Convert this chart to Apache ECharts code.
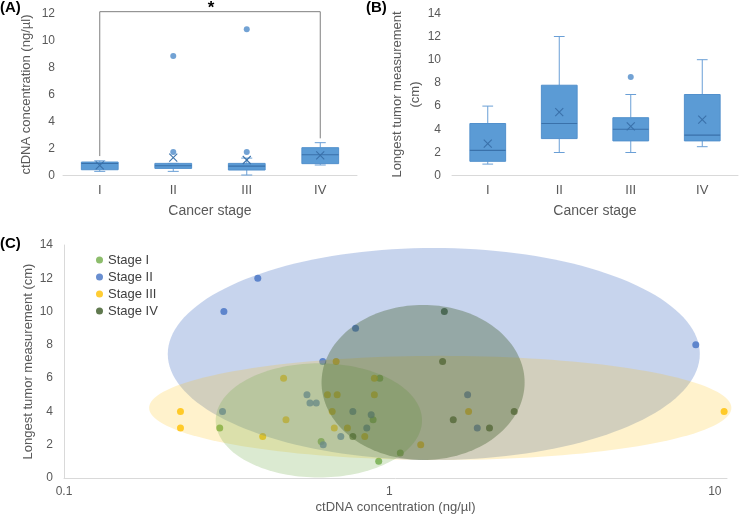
<!DOCTYPE html>
<html><head><meta charset="utf-8">
<script src="https://cdn.jsdelivr.net/npm/echarts@6/dist/echarts.min.js"></script>
<style>html,body{margin:0;padding:0;background:#fff}#c{width:740px;height:515px}</style>
</head><body><div id="c"></div>
<script>
const stages = ['I', 'II', 'III', 'IV'];
// Panel A: ctDNA concentration (ng/µl) per stage: [min, Q1, median, Q3, max]
const ctdnaBoxes = [[0.32, 0.44, 0.9, 1.01, 1.1], [0.32, 0.54, 0.74, 0.91, 0.91], [0.05, 0.42, 0.71, 0.91, 1.3], [0.79, 0.89, 1.55, 2.07, 2.44]];
const ctdnaMeans = [0.77, 1.33, 1.16, 1.5];
const ctdnaOutliers = [[1, 1.75], [1, 8.85], [2, 1.75], [2, 10.82]];
// significance bracket: [fromStage, toStage, fromHeight, toHeight, topHeight]
const sigBracket = [[0, 3, 1.45, 2.76, 12.12]];
// Panel B: longest tumor measurement (cm) per stage
const sizeBoxes = [[1.0, 1.24, 2.18, 4.5, 6.0], [2.0, 3.2, 4.5, 7.8, 12.0], [2.0, 3.0, 4.0, 5.0, 7.0], [2.5, 3.0, 3.5, 7.0, 10.0]];
const sizeMeans = [2.76, 5.49, 4.25, 4.83];
const sizeOutliers = [[2, 8.5]];
// Panel C: [ctDNA, longest tumor measurement]
const stageI = [[0.934, 6], [0.891, 3.5], [0.301, 3], [0.617, 2.2], [1.08, 1.5], [0.927, 1]];
const stageII = [[0.31, 10], [0.394, 12], [0.787, 9], [8.74, 8], [0.624, 7], [0.558, 5], [0.570, 4.5], [0.596, 4.5], [0.307, 4], [0.772, 4], [0.879, 3.8], [0.852, 3], [0.709, 2.5], [0.626, 2], [1.739, 5], [1.862, 3]];
const stageIII = [[0.686, 7], [0.473, 6], [0.899, 6], [0.645, 5], [0.691, 5], [0.899, 5], [0.667, 4], [0.228, 4], [0.228, 3], [0.481, 3.5], [0.408, 2.5], [0.677, 3], [0.743, 3], [0.840, 2.5], [1.248, 2], [10.68, 4], [1.751, 4]];
const stageIV = [[1.475, 10], [1.457, 7], [0.772, 2.5], [2.418, 4], [1.571, 3.5], [2.03, 3]];
// cluster ellipses: [center ctDNA, center size, x radius (decades), y radius]
const ellipses = [[1.369, 7.45, 0.8175, 6.37], [1.433, 4.21, 0.8947, 3.13], [0.607, 3.46, 0.317, 3.43], [1.269, 5.74, 0.312, 4.66]];
const ellipseColors = ['rgba(68,114,196,0.30)', 'rgba(255,192,0,0.20)', 'rgba(112,173,71,0.25)', 'rgba(56,87,35,0.35)'];
const stageNames = ['Stage I', 'Stage II', 'Stage III', 'Stage IV'];
const stageColors = ['#70ad47', '#4472c4', '#ffc000', '#385723'];
const yA = { min: 0, max: 12, interval: 2 };
const yB = { min: 0, max: 14, interval: 2 };
const yC = { min: 0, max: 14, interval: 2 };
const xC = { min: 0.1, max: 10.9 };

const FONT = '"Liberation Sans", Arial, sans-serif';
const GREY = '#595959';

function boxData(boxes, means) {
  return boxes.map((b, i) => [i].concat(b, [means[i]]));
}
function renderBox(params, api) {
  const i = api.value(0);
  const bw = api.size([1, 0])[0] * 0.5;
  const capW = bw * 0.3;
  const x = api.coord([i, 0])[0];
  const y = k => api.coord([i, api.value(k)])[1];
  const yMin = y(1), yQ1 = y(2), yMed = y(3), yQ3 = y(4), yMax = y(5), yMean = y(6);
  const ws = { stroke: '#6a9fd6', lineWidth: 1 };
  const ms = { stroke: '#3a71aa', lineWidth: 1.1 };
  return {
    type: 'group', children: [
      { type: 'line', shape: { x1: x, y1: yMax, x2: x, y2: yQ3 }, style: ws },
      { type: 'line', shape: { x1: x, y1: yQ1, x2: x, y2: yMin }, style: ws },
      { type: 'line', shape: { x1: x - capW / 2, y1: yMax, x2: x + capW / 2, y2: yMax }, style: ws },
      { type: 'line', shape: { x1: x - capW / 2, y1: yMin, x2: x + capW / 2, y2: yMin }, style: ws },
      { type: 'rect', shape: { x: x - bw / 2, y: yQ3, width: bw, height: yQ1 - yQ3 }, style: { fill: '#5b9bd5', stroke: '#5290cc', lineWidth: 1 } },
      { type: 'line', shape: { x1: x - bw / 2, y1: yMed, x2: x + bw / 2, y2: yMed }, style: ms },
      { type: 'line', shape: { x1: x - 4, y1: yMean - 4, x2: x + 4, y2: yMean + 4 }, style: ms },
      { type: 'line', shape: { x1: x - 4, y1: yMean + 4, x2: x + 4, y2: yMean - 4 }, style: ms }
    ]
  };
}
function renderBracket(params, api) {
  const a = api.coord([api.value(0), api.value(2)]);
  const b = api.coord([api.value(1), api.value(3)]);
  const ta = api.coord([api.value(0), api.value(4)]);
  const tb = api.coord([api.value(1), api.value(4)]);
  return {
    type: 'group', children: [
      { type: 'polyline', shape: { points: [a, ta, tb, b] }, style: { stroke: '#7f7f7f', lineWidth: 1, fill: 'none' } },
      { type: 'text', x: (ta[0] + tb[0]) / 2 + 1, y: ta[1] - 11.5, style: { text: '*', font: 'bold 17px ' + FONT, fill: '#000', align: 'center', verticalAlign: 'top' } }
    ]
  };
}
function renderEllipse(params, api) {
  const lc = Math.log10(api.value(0)), cy = api.value(1), rx = api.value(2), ry = api.value(3);
  const pts = [];
  for (let k = 0; k < 160; k++) {
    const t = k / 160 * 2 * Math.PI;
    pts.push(api.coord([Math.pow(10, lc + rx * Math.cos(t)), cy + ry * Math.sin(t)]));
  }
  return { type: 'polygon', shape: { points: pts }, style: { fill: ellipseColors[params.dataIndex] } };
}

const catAxis = (gi) => ({
  type: 'category', gridIndex: gi, data: stages,
  axisLine: { lineStyle: { color: '#d9d9d9' } }, axisTick: { show: false },
  axisLabel: { color: GREY, fontSize: 13, fontFamily: FONT, margin: 8 },
  name: 'Cancer stage', nameLocation: 'middle', nameGap: 28, nameMoveOverlap: false,
  nameTextStyle: { color: GREY, fontSize: 14, fontFamily: FONT }
});
const valAxis = (gi, r, name, gap, margin) => ({
  type: 'value', gridIndex: gi, min: r.min, max: r.max, interval: r.interval,
  axisLine: { show: false }, axisTick: { show: false }, splitLine: { show: false },
  axisLabel: { color: GREY, fontSize: 12, fontFamily: FONT, margin: margin },
  name: name, nameLocation: 'middle', nameGap: gap, nameMoveOverlap: false,
  nameTextStyle: { color: GREY, fontSize: 13, fontFamily: FONT, lineHeight: 18 }
});

const chart = echarts.init(document.getElementById('c'));
chart.setOption({
  animation: false,
  backgroundColor: '#fff',
  graphic: [
    { type: 'text', left: 0, top: 0, style: { text: '(A)', font: 'bold 15px ' + FONT, fill: '#000' } },
    { type: 'text', left: 366, top: 0, style: { text: '(B)', font: 'bold 15px ' + FONT, fill: '#000' } },
    { type: 'text', left: 0, top: 236, style: { text: '(C)', font: 'bold 15px ' + FONT, fill: '#000' } }
  ],
  grid: [
    { left: 63, top: 13.3, width: 294, height: 162.4 },
    { left: 452, top: 13.3, width: 286, height: 162.4 },
    { left: 64, top: 245, width: 663, height: 233 }
  ],
  legend: {
    data: stageNames, orient: 'vertical', left: 91, top: 248, itemGap: 3,
    itemWidth: 7, itemHeight: 7, icon: 'circle',
    textStyle: { color: '#404040', fontSize: 13, fontFamily: FONT, lineHeight: 14 }
  },
  xAxis: [
    catAxis(0), catAxis(1),
    {
      type: 'log', logBase: 10, gridIndex: 2, min: xC.min, max: xC.max, interval: 1,
      axisLine: { lineStyle: { color: '#d9d9d9' } }, axisTick: { show: false }, splitLine: { show: false },
      axisLabel: {
        color: GREY, fontSize: 12, fontFamily: FONT, margin: 8, showMaxLabel: false,
        formatter: v => { const l = Math.log10(v); return Math.abs(l - Math.round(l)) < 1e-6 ? String(+v.toPrecision(3)) : ''; }
      },
      name: 'ctDNA concentration (ng/µl)', nameLocation: 'middle', nameGap: 23, nameMoveOverlap: false,
      nameTextStyle: { color: GREY, fontSize: 13, fontFamily: FONT }
    }
  ],
  yAxis: [
    valAxis(0, yA, 'ctDNA concentration (ng/µl)', 28, 8),
    valAxis(1, yB, 'Longest tumor measurement\n(cm)', 28, 11),
    Object.assign(valAxis(2, yC, 'Longest tumor measurement (cm)', 26.5, 11), { axisLine: { show: true, lineStyle: { color: '#d9d9d9' } } })
  ],
  series: [
    { type: 'custom', xAxisIndex: 0, yAxisIndex: 0, renderItem: renderBox, data: boxData(ctdnaBoxes, ctdnaMeans), silent: true },
    { type: 'scatter', xAxisIndex: 0, yAxisIndex: 0, data: ctdnaOutliers, symbolSize: 6, itemStyle: { color: '#4f8bc9' }, silent: true },
    { type: 'custom', xAxisIndex: 0, yAxisIndex: 0, renderItem: renderBracket, data: sigBracket, silent: true, clip: false },
    { type: 'custom', xAxisIndex: 1, yAxisIndex: 1, renderItem: renderBox, data: boxData(sizeBoxes, sizeMeans), silent: true },
    { type: 'scatter', xAxisIndex: 1, yAxisIndex: 1, data: sizeOutliers, symbolSize: 6, itemStyle: { color: '#4f8bc9' }, silent: true },
    { type: 'scatter', name: stageNames[0], xAxisIndex: 2, yAxisIndex: 2, data: stageI, symbolSize: 7, itemStyle: { color: stageColors[0] }, z: 2 },
    { type: 'scatter', name: stageNames[1], xAxisIndex: 2, yAxisIndex: 2, data: stageII, symbolSize: 7, itemStyle: { color: stageColors[1] }, z: 2 },
    { type: 'scatter', name: stageNames[2], xAxisIndex: 2, yAxisIndex: 2, data: stageIII, symbolSize: 7, itemStyle: { color: stageColors[2] }, z: 2 },
    { type: 'scatter', name: stageNames[3], xAxisIndex: 2, yAxisIndex: 2, data: stageIV, symbolSize: 7, itemStyle: { color: stageColors[3] }, z: 2 },
    { type: 'custom', xAxisIndex: 2, yAxisIndex: 2, renderItem: renderEllipse, data: ellipses, silent: true, z: 5 }
  ]
});
</script></body></html>
